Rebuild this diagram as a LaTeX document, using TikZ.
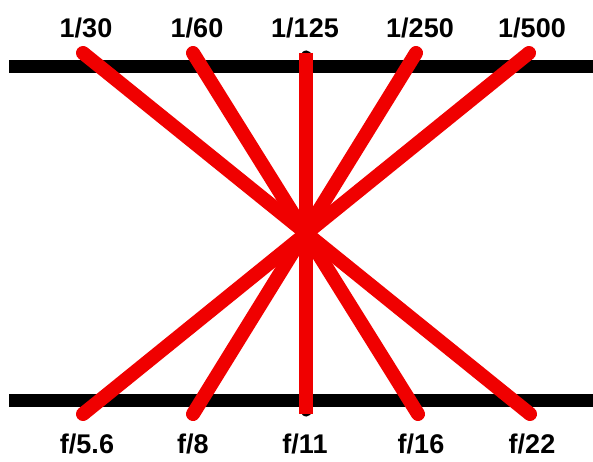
\documentclass[tikz,border=0pt]{standalone}
\usepackage{fontspec}
\setmainfont{Liberation Sans}
\usepackage{tikz}
\usetikzlibrary{positioning,calc}
\definecolor{stopred}{RGB}{240,0,0}

\begin{document}
\begin{tikzpicture}[
    x=1pt, y=-1pt,
    every node/.style={font=\fontsize{27}{30}\selectfont\bfseries, inner sep=0pt},
    scale line/.style={line width=13pt, black},
    pair line/.style={line width=14pt, stopred, line cap=round}
]

\useasboundingbox (0,0) rectangle (593,462);

% shutter speeds
\node (S1) at (86,28) {1/30};
\node (S2) at (197,28) {1/60};
\node (S3) at (305,28) {1/125};
\node (S4) at (420,28) {1/250};
\node (S5) at (532,28) {1/500};

% apertures
\node (A1) at (87,444) {f/5.6};
\node (A2) at (193,444) {f/8};
\node (A3) at (305,444) {f/11};
\node (A4) at (421,444) {f/16};
\node (A5) at (532,444) {f/22};

\coordinate (TL) at (9,67);
\coordinate (TR) at (593,67);
\coordinate (BL) at (9,400);
\coordinate (BR) at (593,400);

\coordinate (s1) at (83,53);
\coordinate (s2) at (193,53);
\coordinate (s3) at (306,53);
\coordinate (s4) at (416,53);
\coordinate (s5) at (529,53);

\coordinate (a1) at (83,414);
\coordinate (a2) at (193,414);
\coordinate (a3) at (306,414);
\coordinate (a4) at (418,414);
\coordinate (a5) at (530,414);

\draw[scale line] (TL) -- (TR);
\draw[scale line] (BL) -- (BR);

\draw[line width=11pt, black, line cap=round] ([yshift=-3pt]s3) -- ([yshift=3pt]a3);

\draw[pair line] (s1) -- (a5);
\draw[pair line] (s2) -- (a4);
\draw[pair line, line cap=butt] (s3) -- (a3);
\draw[pair line] (s4) -- (a2);
\draw[pair line] (s5) -- (a1);

\end{tikzpicture}
\end{document}
